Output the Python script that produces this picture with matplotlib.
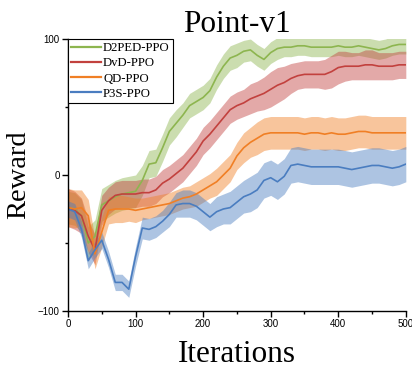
import numpy as np
import matplotlib
matplotlib.use("Agg")
import matplotlib.pyplot as plt
from matplotlib.ticker import MultipleLocator

# Iterations sampled every 10
iters = list(range(0, 501, 10))

# D2PED-PPO
d2ped_mean = [-24, -25, -30, -50, -45, -22, -19, -16, -14, -13,
              -12, -4, 8, 9, 20, 32, 38, 44, 51, 54,
              57, 62, 72, 80, 86, 88, 91, 92, 88, 85,
              90, 93, 94, 94, 95, 95, 94, 94, 94, 94,
              95, 94, 94, 95, 94, 93, 92, 93, 95, 96, 96]
d2ped_err = [12, 12, 12, 12, 12, 12, 12, 12, 12, 12,
             12, 11, 10, 10, 10, 10, 10, 9, 9, 9,
             9, 9, 9, 9, 9, 9, 8, 8, 8, 8,
             8, 8, 7, 7, 7, 7, 7, 7, 7, 7,
             7, 7, 7, 7, 7, 7, 7, 7, 7, 7, 7]

# DvD-PPO
dvd_mean = [-24, -26, -30, -45, -55, -26, -19, -15, -14, -14,
            -14, -13, -13, -11, -6, -3, 1, 5, 11, 17,
            25, 30, 36, 42, 48, 51, 53, 56, 58, 60,
            63, 66, 68, 71, 73, 74, 74, 74, 74, 76,
            79, 80, 80, 80, 81, 81, 80, 80, 80, 81, 81]
dvd_err = [14, 14, 13, 12, 11, 11, 10, 10, 10, 10,
           10, 10, 10, 10, 10, 10, 10, 10, 10, 10,
           10, 10, 10, 10, 10, 10, 10, 11, 11, 12,
           13, 13, 12, 11, 10, 10, 10, 10, 11, 12,
           12, 11, 10, 10, 11, 11, 10, 10, 10, 10, 10]

# QD-PPO
qd_mean = [-24, -25, -24, -30, -58, -42, -26, -25, -25, -25,
           -26, -25, -24, -23, -22, -21, -19, -17, -16, -14,
           -11, -8, -5, 0, 5, 14, 20, 24, 27, 30,
           31, 31, 31, 31, 31, 30, 31, 31, 30, 31,
           30, 30, 31, 32, 32, 31, 31, 31, 31, 31, 31]
qd_err = [14, 14, 13, 12, 11, 11, 10, 10, 10, 9,
          9, 8, 8, 8, 8, 8, 8, 8, 8, 9,
          9, 9, 10, 10, 10, 10, 11, 11, 12, 12,
          12, 12, 12, 12, 12, 12, 12, 12, 12, 12,
          12, 12, 12, 12, 12, 12, 12, 12, 12, 12, 12]

# P3S-PPO
p3s_mean = [-25, -27, -40, -63, -55, -48, -62, -79, -79, -84,
            -60, -39, -40, -38, -34, -29, -22, -21, -21, -23,
            -27, -31, -27, -25, -24, -20, -16, -14, -11, -4,
            -2, -5, -1, 7, 8, 7, 6, 6, 6, 6,
            6, 5, 4, 5, 6, 7, 7, 6, 5, 6, 8]
p3s_err = [6, 6, 6, 6, 6, 6, 6, 6, 6, 6,
           7, 8, 8, 8, 8, 9, 9, 10, 10, 10,
           10, 10, 11, 11, 12, 12, 12, 13, 13, 13,
           13, 13, 13, 13, 13, 13, 13, 13, 13, 13,
           13, 13, 13, 13, 13, 13, 13, 13, 13, 13, 13]

labels = ["D2PED-PPO", "DvD-PPO", "QD-PPO", "P3S-PPO"]
means = [d2ped_mean, dvd_mean, qd_mean, p3s_mean]
errs = [d2ped_err, dvd_err, qd_err, p3s_err]
colours = ["#8db54f", "#c2413e", "#f07f25", "#4a7dc0"]

serif = "Liberation Serif"
sans = "Liberation Sans"

fig = plt.figure(figsize=(4.12, 3.68), dpi=100)
ax = fig.add_axes([0.165, 0.155, 0.82, 0.739])

x = np.array(iters)
for lab, m, e, c in zip(labels, means, errs, colours):
    m = np.array(m)
    e = np.array(e)
    ax.fill_between(x, m - e, m + e, color=c, alpha=0.45, lw=0)
    ax.plot(x, m, color=c, lw=1.2, label=lab)

ax.set_xlim(0, 500)
ax.set_ylim(-100, 100)
ax.xaxis.set_major_locator(MultipleLocator(100))
ax.xaxis.set_minor_locator(MultipleLocator(50))
ax.yaxis.set_major_locator(MultipleLocator(100))
ax.yaxis.set_minor_locator(MultipleLocator(50))
ax.tick_params(which="major", direction="out", length=4, width=1, labelsize=7, pad=2)
ax.tick_params(which="minor", direction="out", length=2, width=1)
for t in ax.get_xticklabels() + ax.get_yticklabels():
    t.set_fontfamily(sans)

ax.spines["top"].set_visible(False)
ax.spines["right"].set_visible(False)
ax.spines["left"].set_linewidth(1)
ax.spines["bottom"].set_linewidth(1)

ax.set_title("Point-v1", fontfamily=serif, fontsize=22.5, pad=4)
ax.set_xlabel("Iterations", fontfamily=serif, fontsize=22.5, labelpad=8)
ax.set_ylabel("Reward", fontfamily=serif, fontsize=20.5, labelpad=5)

leg = ax.legend(loc="upper left", prop={"family": serif, "size": 9.2},
                fancybox=False, edgecolor="black", framealpha=1,
                borderaxespad=0, handlelength=2.3, handletextpad=0.2,
                labelspacing=0.25, borderpad=0.25)
leg.get_frame().set_linewidth(0.8)
for line in leg.get_lines():
    line.set_linewidth(1.6)

fig.savefig("out.png", dpi=100)
